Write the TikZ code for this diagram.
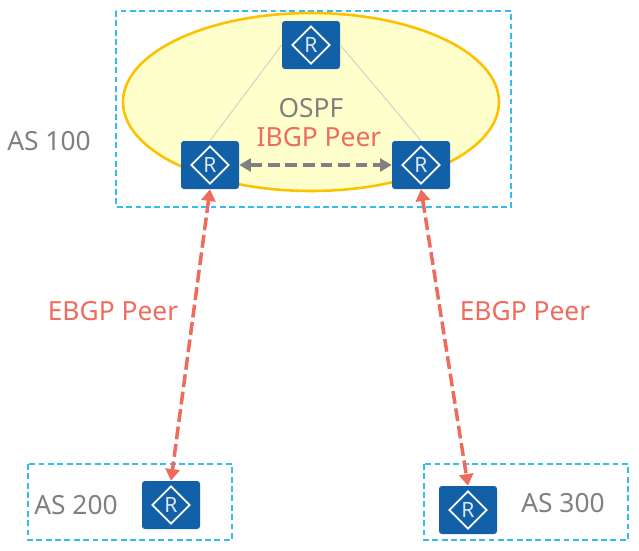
\documentclass[tikz,border=0pt]{standalone}
\usepackage{fontspec}
\setmainfont{Noto Sans}
\usetikzlibrary{shapes.geometric, arrows.meta}
\definecolor{routerHTML}{HTML}{1160A8}
\definecolor{redHTML}{HTML}{EE6B5E}
\definecolor{grayHTML}{HTML}{808080}
\definecolor{boxHTML}{HTML}{35BDEB}
\definecolor{ospfHTML}{HTML}{FFFFCC}
\definecolor{ringHTML}{HTML}{FFC000}
\definecolor{lineHTML}{HTML}{CFCFCF}
\tikzset{
  router/.style={rectangle, rounded corners=2.5pt, fill=routerHTML, minimum width=1.74cm, minimum height=1.44cm, inner sep=0pt,
    label={[router_mark]center:R}},
  router_mark/.style={diamond, draw=white, line width=1.5pt, minimum width=1.14cm, minimum height=1.14cm, inner sep=0pt,
    text=white!85!routerHTML, font=\fontsize{18}{18}\selectfont},
  as_box/.style={draw=boxHTML, line width=1.1pt, dash pattern=on 5pt off 3pt},
  gray_label/.style={text=grayHTML, font=\fontsize{22.5}{24}\selectfont},
  red_label/.style={text=redHTML, font=\fontsize{22.5}{24}\selectfont},
  ospf_edge/.style={draw=lineHTML, line width=0.8pt},
  ibgp_edge/.style={draw=grayHTML, line width=2.6pt, dash pattern=on 10pt off 5pt, {Triangle[length=10pt,width=11pt]}-{Triangle[length=10pt,width=11pt]}},
  ebgp_edge/.style={draw=redHTML, line width=3pt, dash pattern=on 11pt off 4pt, {Triangle[length=10pt,width=12pt]}-{Triangle[length=10pt,width=12pt]}}
}
\begin{document}
\begin{tikzpicture}[x=0.03cm, y=-0.03cm]
        \useasboundingbox (0, 0) rectangle (639, 550);
        \draw[as_box] (116, 11) rectangle (511, 207);
        \draw[as_box] (28, 464) rectangle (232, 540);
        \draw[as_box] (424, 464) rectangle (628, 540);
        \draw[draw=ringHTML, fill=ospfHTML, line width=2.2pt] (311, 102) ellipse [x radius=188, y radius=89];
        \node[router] (top) at (311, 45) {};
        \node[router] (left) at (210, 165) {};
        \node[router] (right) at (421, 165) {};
        \node[router] (as200) at (171, 505) {};
        \node[router] (as300) at (468, 510) {};
        \node[gray_label] (l100) at (49, 141) {AS 100};
        \node[gray_label] (l200) at (76, 505) {AS 200};
        \node[gray_label] (l300) at (563, 503) {AS 300};
        \node[gray_label] (ospf) at (311, 108) {OSPF};
        \node[red_label] (ibgp) at (319, 137) {IBGP Peer};
        \node[red_label] (ebgp1) at (113, 311) {EBGP Peer};
        \node[red_label] (ebgp2) at (525, 311) {EBGP Peer};
        \draw[ospf_edge] (top.west) -- (left.north);
        \draw[ospf_edge] (top.east) -- (right.north);
        \draw[ibgp_edge] (left) -- (right);
        \draw[ebgp_edge] (left.south) -- (as200.north);
        \draw[ebgp_edge] (right.south) -- (as300.north);
    \end{tikzpicture}
\end{document}
